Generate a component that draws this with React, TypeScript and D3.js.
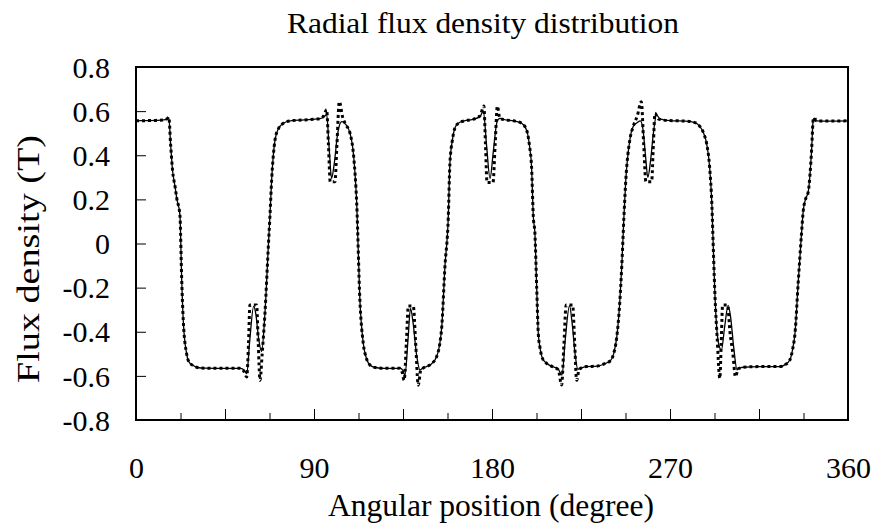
import React, { useEffect, useRef } from 'react';
import * as d3 from 'd3';

// angle ticks (deg) and flux ticks (T)
const xTickValues = [0, 22.5, 45, 67.5, 90, 112.5, 135, 157.5, 180, 202.5, 225, 247.5, 270, 292.5, 315, 337.5, 360];
const xLabelValues = [0, 90, 180, 270, 360];
const yTickValues = [-0.8, -0.6, -0.4, -0.2, 0, 0.2, 0.4, 0.6, 0.8];

// solid line: [angle, flux]
const solidFlux: [number, number][] = [
  [0, 0.556], [5, 0.557], [10, 0.558], [14, 0.56], [15.8, 0.565], [16.6, 0.57], [17.5, 0.45], [18.5, 0.33],
  [19.8, 0.255], [20.6, 0.205], [22.2, 0.13], [23.1, -0.16], [23.9, -0.35], [25.6, -0.5], [27, -0.54], [28.9, -0.553],
  [31, -0.562], [35, -0.565], [45, -0.566], [52.6, -0.566], [54.5, -0.572], [56, -0.59], [57.5, -0.44], [59.5, -0.285],
  [60.6, -0.32], [62, -0.43], [63.5, -0.49], [65.2, -0.316], [66.9, -0.015], [67.7, 0.12], [68.6, 0.29], [70.3, 0.47],
  [72, 0.52], [74.5, 0.545], [78, 0.556], [85, 0.56], [93, 0.566], [95, 0.573], [96.4, 0.585], [97.6, 0.44],
  [98.9, 0.295], [100.2, 0.36], [102, 0.5], [104, 0.552], [106, 0.54], [108.2, 0.5], [110, 0.4], [111.6, 0.18],
  [113.2, -0.256], [114.9, -0.452], [116.5, -0.52], [118.3, -0.551], [121, -0.562], [126, -0.566], [133.5, -0.566],
  [135, -0.575], [136, -0.596], [137.5, -0.44], [138.8, -0.294], [140.1, -0.36], [141.8, -0.5], [143.6, -0.573],
  [145, -0.565], [146.9, -0.558], [149, -0.548], [152, -0.513], [153.5, -0.46], [154.6, -0.377], [156.2, -0.105],
  [157.9, 0.12], [158.7, 0.36], [160, 0.47], [161.3, 0.525], [163, 0.545], [166, 0.556], [170, 0.562], [173.9, 0.575],
  [175.6, 0.6], [177.3, 0.44], [179, 0.295], [180.7, 0.42], [182.5, 0.55], [184, 0.567], [187, 0.56], [191, 0.556],
  [195, 0.545], [197.5, 0.514], [199, 0.44], [200, 0.348], [200.9, 0.12], [201.7, 0.046], [202.6, -0.2], [203.4, -0.407],
  [204.2, -0.468], [205.5, -0.52], [207.6, -0.543], [210, -0.556], [213.5, -0.57], [215.4, -0.596], [217, -0.44],
  [219.2, -0.282], [220.5, -0.36], [222, -0.5], [223.4, -0.57], [225, -0.565], [227.8, -0.558], [233, -0.556],
  [237, -0.545], [240, -0.53], [241.5, -0.5], [243, -0.43], [244.5, -0.28], [245.6, -0.105], [246.7, 0.12],
  [247.6, 0.28], [249.7, 0.47], [251.4, 0.53], [253.5, 0.548], [255, 0.556], [256.3, 0.52], [257.6, 0.4], [258.8, 0.3],
  [260.1, 0.37], [261.6, 0.5], [263.2, 0.582], [265, 0.565], [270, 0.557], [278, 0.555], [282.6, 0.548], [285, 0.532],
  [287, 0.5], [288.5, 0.454], [290, 0.35], [291.2, 0.17], [292, -0.05], [292.8, -0.25], [293.6, -0.38], [294.6, -0.455],
  [296, -0.483], [297.6, -0.38], [299.4, -0.28], [300.6, -0.33], [302.2, -0.47], [303.9, -0.573], [305, -0.566],
  [307, -0.561], [315, -0.558], [325.6, -0.558], [328, -0.55], [330.6, -0.528], [332, -0.48], [333.2, -0.407],
  [334.8, -0.18], [336.5, 0.046], [337.4, 0.15], [338.5, 0.2], [339.9, 0.235], [341.6, 0.424], [342.4, 0.56],
  [343, 0.568], [344, 0.556], [350, 0.555], [360, 0.556],
];

// dotted line: [angle, flux]
const dottedFlux: [number, number][] = [
  [0, 0.556], [5, 0.557], [10, 0.558], [14, 0.56], [15.8, 0.566], [16.6, 0.572], [17.5, 0.45], [18.5, 0.33],
  [19.8, 0.255], [20.6, 0.205], [22.2, 0.13], [23.1, -0.16], [23.9, -0.35], [25.6, -0.5], [27, -0.54], [28.9, -0.553],
  [31, -0.562], [35, -0.565], [45, -0.566], [52.6, -0.566], [54.5, -0.578], [56, -0.605], [56.9, -0.45], [57.6, -0.279],
  [61, -0.279], [61.8, -0.45], [62.7, -0.62], [63.8, -0.5], [65.2, -0.316], [66.9, -0.015], [67.7, 0.12], [68.6, 0.29],
  [70.3, 0.47], [72, 0.52], [74.5, 0.545], [78, 0.556], [85, 0.56], [93, 0.566], [95, 0.58], [96.4, 0.607],
  [97.3, 0.45], [98.2, 0.28], [100.6, 0.28], [101.6, 0.45], [102.8, 0.643], [104.5, 0.572], [106, 0.54], [108.2, 0.5],
  [110, 0.4], [111.6, 0.18], [113.2, -0.256], [114.9, -0.452], [116.5, -0.52], [118.3, -0.551], [121, -0.562],
  [126, -0.566], [133.5, -0.566], [134.6, -0.585], [135.6, -0.62], [136.7, -0.45], [137.7, -0.283], [140.2, -0.283],
  [141.4, -0.45], [142.7, -0.642], [144, -0.572], [145, -0.565], [146.9, -0.558], [149, -0.548], [152, -0.513],
  [153.5, -0.46], [154.6, -0.377], [156.2, -0.105], [157.9, 0.12], [158.7, 0.36], [160, 0.47], [161.3, 0.525],
  [163, 0.545], [166, 0.556], [170, 0.562], [173.9, 0.578], [175.9, 0.623], [176.7, 0.45], [177.5, 0.276],
  [180.5, 0.276], [181.6, 0.45], [182.7, 0.623], [184, 0.567], [187, 0.56], [191, 0.556], [195, 0.545], [197.5, 0.514],
  [199, 0.44], [200, 0.348], [200.9, 0.12], [201.7, 0.046], [202.6, -0.2], [203.4, -0.407], [204.2, -0.468],
  [205.5, -0.52], [207.6, -0.543], [210, -0.556], [213.5, -0.572], [215.2, -0.641], [216.4, -0.45], [217.5, -0.279],
  [220.8, -0.279], [221.8, -0.45], [222.8, -0.62], [224, -0.572], [225, -0.565], [227.8, -0.558], [233, -0.556],
  [237, -0.545], [240, -0.53], [241.5, -0.5], [243, -0.43], [244.5, -0.28], [245.6, -0.105], [246.7, 0.12],
  [247.6, 0.28], [249.7, 0.47], [251.4, 0.53], [253.5, 0.58], [255.5, 0.643], [256.7, 0.45], [257.8, 0.28],
  [260.7, 0.28], [261.6, 0.45], [262.4, 0.59], [264, 0.565], [265, 0.562], [270, 0.557], [278, 0.555], [282.6, 0.548],
  [285, 0.532], [287, 0.5], [288.5, 0.454], [290, 0.35], [291.2, 0.17], [292, -0.05], [292.8, -0.25], [293.8, -0.42],
  [295.2, -0.611], [295.9, -0.45], [296.6, -0.279], [299.1, -0.279], [300.3, -0.4], [301.8, -0.5], [303.1, -0.604],
  [304.5, -0.568], [305, -0.566], [307, -0.561], [315, -0.558], [325.6, -0.558], [328, -0.55], [330.6, -0.528],
  [332, -0.48], [333.2, -0.407], [334.8, -0.18], [336.5, 0.046], [337.4, 0.15], [338.5, 0.2], [339.9, 0.235],
  [341.6, 0.424], [342.4, 0.56], [343, 0.57], [344, 0.556], [350, 0.555], [360, 0.556],
];

const W = 876;
const H = 527;
const margin = { top: 67, right: 28, bottom: 107, left: 136 };
const font = "'Liberation Serif'";

function FluxChart() {
  const svgRef = useRef<SVGSVGElement>(null);

  useEffect(() => {
    const svg = d3.select(svgRef.current);
    svg.selectAll('*').remove();

    const innerW = W - margin.left - margin.right;
    const innerH = H - margin.top - margin.bottom;

    const x = d3.scaleLinear().domain([0, 360]).range([margin.left, margin.left + innerW]);
    const y = d3.scaleLinear().domain([-0.8, 0.8]).range([margin.top + innerH, margin.top]);

    const line = d3.line<[number, number]>()
      .x(d => x(d[0]))
      .y(d => y(d[1]))
      .curve(d3.curveMonotoneX);

    // y axis, ticks inside
    const yAxis = d3.axisLeft(y)
      .tickValues(yTickValues)
      .tickSize(-10)
      .tickPadding(26)
      .tickFormat(d => String(d));
    const gy = svg.append('g').attr('transform', `translate(${margin.left},0)`).call(yAxis);
    gy.select('.domain').remove();
    gy.attr('font-family', null);
    gy.selectAll('line').attr('stroke', '#000').attr('stroke-width', 1);
    gy.selectAll('text')
      .style('font-family', font)
      .style('font-size', '30px')
      .attr('fill', '#000')
      .attr('dy', '0.34em');

    // x axis, ticks inside
    const xAxis = d3.axisBottom(x)
      .tickValues(xTickValues)
      .tickSize(-7)
      .tickFormat(d => (xLabelValues.includes(+d) ? String(d) : ''));
    const gx = svg.append('g').attr('transform', `translate(0,${margin.top + innerH})`).call(xAxis);
    gx.select('.domain').remove();
    gx.attr('font-family', null);
    gx.selectAll('line')
      .attr('stroke', '#000')
      .attr('stroke-width', 1)
      .attr('y2', (d: any) => (d % 45 === 0 ? -11 : -7));
    gx.selectAll('text')
      .style('font-family', font)
      .style('font-size', '30px')
      .attr('fill', '#000')
      .attr('y', 58)
      .attr('dy', 0);

    // curves
    svg.append('path')
      .datum(solidFlux)
      .attr('d', line)
      .attr('fill', 'none')
      .attr('stroke', '#000')
      .attr('stroke-width', 1.3);

    svg.append('path')
      .datum(dottedFlux)
      .attr('d', line)
      .attr('fill', 'none')
      .attr('stroke', '#000')
      .attr('stroke-width', 3)
      .attr('stroke-dasharray', '3 3');

    // frame
    svg.append('rect')
      .attr('x', margin.left)
      .attr('y', margin.top)
      .attr('width', innerW)
      .attr('height', innerH)
      .attr('fill', 'none')
      .attr('stroke', '#000')
      .attr('stroke-width', 2);

    // titles
    svg.append('text')
      .attr('x', 483)
      .attr('y', 33)
      .attr('text-anchor', 'middle')
      .style('font-family', font)
      .style('font-size', '30px')
      .attr('textLength', 392)
      .attr('lengthAdjust', 'spacingAndGlyphs')
      .text('Radial flux density distribution');

    svg.append('text')
      .attr('x', 491)
      .attr('y', 516)
      .attr('text-anchor', 'middle')
      .style('font-family', font)
      .style('font-size', '31px')
      .attr('textLength', 326)
      .attr('lengthAdjust', 'spacingAndGlyphs')
      .text('Angular position (degree)');

    svg.append('text')
      .attr('transform', `translate(39,259) rotate(-90)`)
      .attr('text-anchor', 'middle')
      .style('font-family', font)
      .style('font-size', '32px')
      .attr('textLength', 248)
      .attr('lengthAdjust', 'spacingAndGlyphs')
      .text('Flux density (T)');
  }, []);

  return <svg ref={svgRef} width={W} height={H} style={{ position: 'absolute', left: 0, top: 0, background: '#fff' }} />;
}

export default function App() {
  return <FluxChart />;
}
